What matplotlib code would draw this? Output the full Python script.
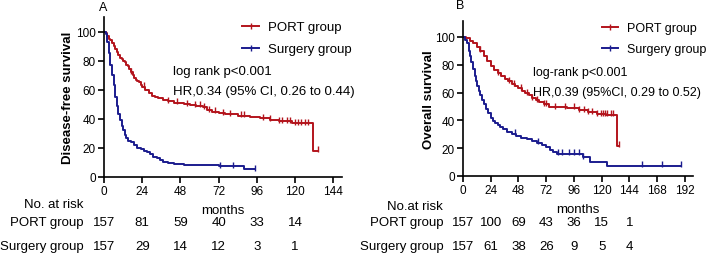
import matplotlib.pyplot as plt
import matplotlib as mpl
from matplotlib.lines import Line2D
import matplotlib.transforms as mtransforms
import numpy as np

mpl.use("Agg")
plt.rcParams["font.family"] = ["Liberation Sans", "DejaVu Sans"]

RED = "#B3141C"
BLUE = "#1B1C8E"

# ---- panel A: disease-free survival ----
a_port_t = [0, 1, 2, 3, 4, 5, 6, 7, 8, 9, 10, 11, 12, 13, 14, 15, 16, 17, 18,
            19, 20, 21, 22, 23, 24, 26, 28, 30, 32, 34, 37, 40, 44, 50, 54, 58,
            62, 65, 68, 72, 76, 84, 92, 98, 104, 110, 118, 131, 134.5]
a_port_s = [100, 99, 97, 95, 94, 92, 90, 88, 86, 84, 82, 81, 80, 79, 77, 76, 74,
            72, 70, 68, 67, 66, 65, 63, 62, 60, 58, 56, 55, 54, 53, 52, 51, 50,
            49.5, 49, 48, 46, 45, 44, 43, 42, 41, 40.5, 39.5, 38.5, 37, 18, 18]
a_surg_t = [0, 1, 2, 3, 4, 5, 6, 7, 8, 9, 10, 11, 12, 13, 14, 15, 17, 19, 21,
            23, 25, 27, 29, 31, 33, 35, 37, 40, 44, 50, 58, 72, 88, 95]
a_surg_s = [100, 98, 93, 85, 77, 70, 63, 55, 49, 43, 39, 35, 32, 29, 27, 25, 24,
            22, 20, 19, 18, 17, 15.5, 14, 13, 11.5, 10.5, 9.5, 9, 8.5, 8, 7.5,
            5.5, 5.5]
a_port_cens = [17, 25, 40, 46, 52, 57, 60, 63, 66, 70, 75, 79, 86, 88, 100, 104,
               110, 112, 115, 117, 120, 122, 124, 126, 128, 134.5]
a_surg_cens = [73, 81, 95]

# ---- panel B: overall survival ----
b_port_t = [0, 3, 6, 9, 12, 15, 18, 21, 24, 27, 30, 33, 36, 39, 42, 45, 48, 51,
            54, 57, 60, 63, 66, 70, 74, 90, 100, 108, 116, 124, 133, 135]
b_port_s = [100, 99, 97, 96, 93, 90, 86, 83, 79, 76, 74, 72, 70, 68, 66, 64.5,
            63, 61, 59.5, 58, 56, 54.5, 53, 51.5, 49.5, 49, 47.5, 46, 44.6, 44,
            21.7, 21.7]
b_surg_t = [0, 2, 3.5, 5, 6, 7, 8.5, 10, 11, 12, 13.5, 15, 16.5, 18, 20, 22, 24,
            26, 28, 30, 32, 35, 38, 42, 46, 50, 55, 60, 64, 68, 72, 75, 78, 81,
            104, 110, 124.5, 189]
b_surg_s = [100, 98, 96, 90, 86, 82, 77, 72, 68, 65, 61, 58, 55, 52, 48.5, 45,
            42, 39.5, 38, 37, 35, 33.5, 32, 30.5, 29, 27.5, 26.6, 25, 24, 22.5,
            20.6, 19, 17, 16, 13.4, 10, 7.4, 7.4]
b_port_cens = [15, 30, 40, 44, 50, 55, 60, 64, 70, 72, 80, 88, 96, 100, 105,
               108, 112, 116, 119, 121, 123, 125, 128, 130, 135]
b_surg_cens = [45, 65, 82, 86, 92, 96, 100, 104, 155, 172, 189]

risk_groups = ["PORT group", "Surgery group"]
a_risk_t = [0, 24, 48, 72, 96, 120]
a_risk_port = [157, 81, 59, 40, 33, 14]
a_risk_surg = [157, 29, 14, 12, 3, 1]
b_risk_t = [0, 24, 48, 72, 96, 120, 144]
b_risk_port = [157, 100, 69, 43, 36, 15, 1]
b_risk_surg = [157, 61, 38, 26, 9, 5, 4]

W, H = 708, 255
fig = plt.figure(figsize=(W / 100, H / 100), dpi=100)


def px_axes(left, top, right, bottom):
    return fig.add_axes([left / W, 1 - bottom / H, (right - left) / W,
                         (bottom - top) / H])


def step_val(t, s, x):
    i = np.searchsorted(t, x, side="right") - 1
    return s[max(i, 0)]


def draw_km(ax, t, s, cens, color):
    ax.step(t, s, where="post", color=color, lw=1.4)
    ys = [step_val(t, s, c) for c in cens]
    ax.plot(cens, np.array(ys) + 1.0, ls="none", marker="|", ms=4,
            mew=1.0, color=color)


def style_axes(ax, xmax, ymax, xticks):
    ax.set_xlim(0, xmax)
    ax.set_ylim(0, ymax)
    ax.set_xticks(xticks)
    ax.set_yticks([0, 20, 40, 60, 80, 100])
    for sp in ["top", "right"]:
        ax.spines[sp].set_visible(False)
    for sp in ["left", "bottom"]:
        ax.spines[sp].set_linewidth(1.2)
    ax.tick_params(direction="out", length=4, width=1.2, labelsize=8.5,
                   pad=2)
    ax.set_xlabel("months", fontsize=9.5, labelpad=5)


def risk_table(ax, xs, rows, label_x, head, head_y, fs):
    trans = mtransforms.blended_transform_factory(ax.transData,
                                                  fig.transFigure)
    fig.text(label_x / W, 1 - head_y / H, head, ha="right", va="center",
             fontsize=fs)
    for (name, vals), yy in zip(rows, [223, 247]):
        fig.text((label_x + 1) / W, 1 - yy / H, name, ha="right",
                 va="center", fontsize=fs)
        for x, v in zip(xs, vals):
            ax.text(x, 1 - yy / H, str(v), transform=trans, ha="center",
                    va="center", fontsize=fs)


def legend(ax, anchor, fs):
    handles = [Line2D([], [], color=RED, lw=1.4, marker="|", ms=4),
               Line2D([], [], color=BLUE, lw=1.4, marker="|", ms=4)]
    ax.legend(handles, risk_groups, loc="upper left", bbox_to_anchor=anchor,
              frameon=False, fontsize=fs, handlelength=1.3,
              handletextpad=0.7, labelspacing=0.75, borderpad=0,
              borderaxespad=0, markerfirst=True)


# panel A
axA = px_axes(104, 18, 342, 178)
draw_km(axA, a_port_t, a_port_s, a_port_cens, RED)
draw_km(axA, a_surg_t, a_surg_s, a_surg_cens, BLUE)
style_axes(axA, 149.5, 110, [0, 24, 48, 72, 96, 120, 144])
axA.set_ylabel("Disease-free survival", fontsize=9.5, fontweight="bold",
               labelpad=1)
axA.text(43.3, 73, "log rank p<0.001", fontsize=9.5, va="center")
axA.text(43.3, 59.3, "HR,0.34 (95% CI, 0.26 to 0.44)", fontsize=9.5,
         va="center")
legend(axA, ((242 - 104) / 238, 1 - 4 / 160), 9.5)
fig.text(103 / W, 1 - 8 / H, "A", ha="center", va="center", fontsize=9)
risk_table(axA, a_risk_t, list(zip(risk_groups, [a_risk_port, a_risk_surg])),
           83, "No. at risk", 205, 9.5)

# panel B
axB = px_axes(463, 22, 693, 177)
draw_km(axB, b_port_t, b_port_s, b_port_cens, RED)
draw_km(axB, b_surg_t, b_surg_s, b_surg_cens, BLUE)
style_axes(axB, 199, 111.5, [0, 24, 48, 72, 96, 120, 144, 168, 192])
axB.set_ylabel("Overall survival", fontsize=9.5, fontweight="bold",
               labelpad=0)
axB.text(60.5, 74.8, "log-rank p<0.001", fontsize=9, va="center")
axB.text(60.5, 60.4, "HR,0.39 (95%CI, 0.29 to 0.52)", fontsize=9,
         va="center")
legend(axB, ((602 - 463) / 230, 1 - 1 / 155), 9)
fig.text(460 / W, 1 - 6 / H, "B", ha="center", va="center", fontsize=9)
risk_table(axB, b_risk_t, list(zip(risk_groups, [b_risk_port, b_risk_surg])),
           443, "No.at risk", 207, 9.5)

fig.savefig("out.png", dpi=100)
